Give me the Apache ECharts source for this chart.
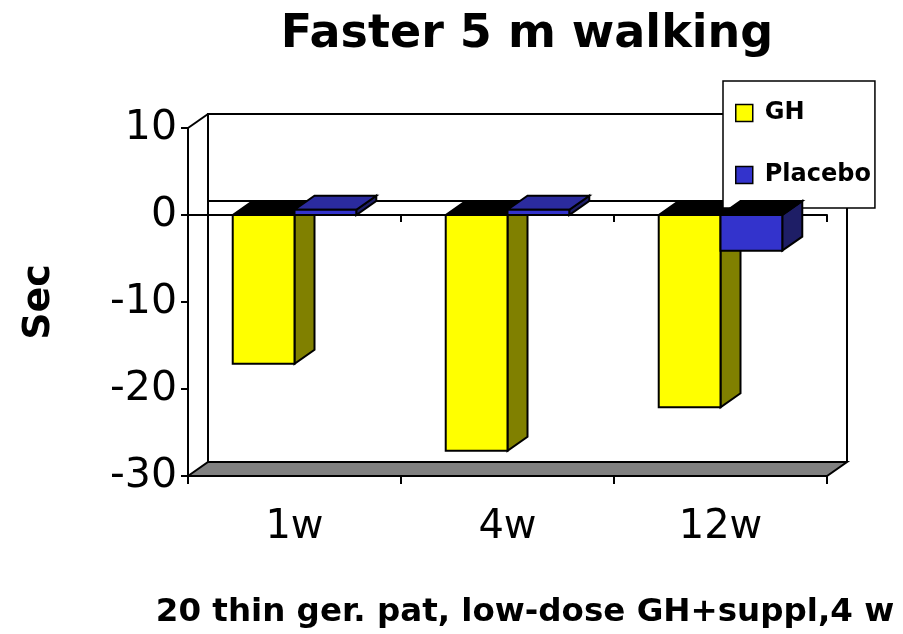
<!DOCTYPE html>
<html>
<head>
<meta charset="utf-8">
<script src="https://cdn.jsdelivr.net/npm/echarts@6/dist/echarts.min.js"></script>
<style>
  html, body { margin: 0; padding: 0; background: #fff; }
  #main { width: 903px; height: 634px; }
</style>
</head>
<body>
<div id="main"></div>
<script>
var categories = ["1w", "4w", "12w"];
var ghValues = [-17.1, -27.1, -22.1];
var placeboValues = [0.6, 0.6, -4.1];
var yMin = -30, yMax = 10, yStep = 10;

var FONT = "DejaVu Sans";
var DX = 20, DY = -14; // 3d depth offset in px

function frameRender(params, api) {
  var cs = params.coordSys;
  var x0 = cs.x, x1 = cs.x + cs.width;
  var yT = cs.y, yB = cs.y + cs.height;
  var y0 = api.coord([0, 0])[1];
  var line = { stroke: "#000", lineWidth: 2, fill: null };
  return {
    type: "group",
    children: [
      {
        type: "polygon",
        shape: { points: [[x0, yB], [x0 + DX, yB + DY], [x1 + DX, yB + DY], [x1, yB]] },
        style: { fill: "#808080", stroke: "#000", lineWidth: 2 }
      },
      {
        type: "polyline",
        shape: { points: [[x0 + DX, yB + DY], [x0 + DX, yT + DY], [x1 + DX, yT + DY], [x1 + DX, yB + DY]] },
        style: line
      },
      { type: "line", shape: { x1: x0, y1: yT, x2: x0 + DX, y2: yT + DY }, style: line },
      { type: "line", shape: { x1: x0 + DX, y1: y0 + DY, x2: x1 + DX, y2: y0 + DY }, style: line }
    ]
  };
}

function barRender(side, front, sideColor, topColor) {
  return function (params, api) {
    var i = api.value(0), v = api.value(1);
    var c = api.coord([i, 0]);
    var yz = c[1];
    var yv = api.coord([i, v])[1];
    var band = api.size([1, 0])[0];
    var w = band * 0.29;
    var xl = side < 0 ? c[0] - w : c[0];
    var xr = xl + w;
    var yt = Math.min(yz, yv), yb = Math.max(yz, yv);
    var st = { stroke: "#000", lineWidth: 2 };
    return {
      type: "group",
      children: [
        {
          type: "polygon",
          shape: { points: [[xr, yt], [xr + DX, yt + DY], [xr + DX, yb + DY], [xr, yb]] },
          style: Object.assign({ fill: sideColor }, st)
        },
        {
          type: "polygon",
          shape: { points: [[xl, yt], [xl + DX, yt + DY], [xr + DX, yt + DY], [xr, yt]] },
          style: Object.assign({ fill: v < 0 ? "#000" : topColor }, st)
        },
        {
          type: "rect",
          shape: { x: xl, y: yt, width: w, height: yb - yt },
          style: Object.assign({ fill: front }, st)
        }
      ]
    };
  };
}

var chart = echarts.init(document.getElementById("main"));
var option = {
  animation: false,
  title: [
    {
      text: "Faster 5 m walking",
      left: 522,
      textAlign: "center",
      top: 7,
      textStyle: { fontFamily: FONT, fontSize: 46, fontWeight: "bold", color: "#000" }
    },
    {
      text: "20 thin ger. pat, low-dose GH+suppl,4 w",
      left: 520,
      textAlign: "center",
      top: 591,
      textStyle: { fontFamily: FONT, fontSize: 32.5, fontWeight: "bold", color: "#000" }
    }
  ],
  legend: {
    orient: "vertical",
    left: 723,
    top: 81,
    padding: [20, 4, 21, 12],
    itemGap: 38,
    itemWidth: 17,
    itemHeight: 17,
    backgroundColor: "#fff",
    borderColor: "#000",
    borderWidth: 1.5,
    borderRadius: 0,
    textStyle: { fontFamily: FONT, fontSize: 24, fontWeight: "bold", color: "#000", padding: [0, 0, 0, 7] },
    data: [
      { name: "GH", icon: "rect", itemStyle: { color: "#FFFF00", borderColor: "#000", borderWidth: 1.5 } },
      { name: "Placebo", icon: "rect", itemStyle: { color: "#3333CC", borderColor: "#000", borderWidth: 1.5 } }
    ]
  },
  grid: { left: 188, right: 76, top: 128, bottom: 158, containLabel: false },
  xAxis: [
    {
      type: "category",
      data: categories,
      position: "bottom",
      boundaryGap: true,
      axisLine: { onZero: false, lineStyle: { color: "#000", width: 2 } },
      axisTick: { show: true, length: 8, lineStyle: { color: "#000", width: 2 } },
      axisLabel: { margin: 32, fontFamily: FONT, fontSize: 40, color: "#000" }
    },
    {
      type: "category",
      data: categories,
      position: "top",
      boundaryGap: true,
      axisLine: { onZero: true, lineStyle: { color: "#000", width: 2 } },
      axisTick: { show: true, inside: true, length: 7, lineStyle: { color: "#000", width: 2 } },
      axisLabel: { show: false }
    }
  ],
  yAxis: {
    type: "value",
    min: yMin,
    max: yMax,
    interval: yStep,
    name: "Sec",
    nameLocation: "middle",
    nameRotate: 90,
    nameGap: 130,
    nameTextStyle: { fontFamily: FONT, fontSize: 38, fontWeight: "bold", color: "#000" },
    axisLine: { show: true, lineStyle: { color: "#000", width: 2 } },
    axisTick: { show: true, length: 7, lineStyle: { color: "#000", width: 2 } },
    axisLabel: { margin: 11, fontFamily: FONT, fontSize: 41, color: "#000" },
    splitLine: { show: false }
  },
  series: [
    {
      name: "frame",
      type: "custom",
      renderItem: frameRender,
      data: [[0, 0]],
      z: 1,
      silent: true
    },
    {
      name: "GH",
      type: "custom",
      renderItem: barRender(-1, "#FFFF00", "#808000", "#999900"),
      itemStyle: { color: "#FFFF00" },
      data: ghValues.map(function (v, i) { return [i, v]; }),
      z: 3
    },
    {
      name: "Placebo",
      type: "custom",
      renderItem: barRender(1, "#3333CC", "#1E1E66", "#2B2B9E"),
      itemStyle: { color: "#3333CC" },
      data: placeboValues.map(function (v, i) { return [i, v]; }),
      z: 4
    }
  ]
};
chart.setOption(option);
</script>
</body>
</html>
